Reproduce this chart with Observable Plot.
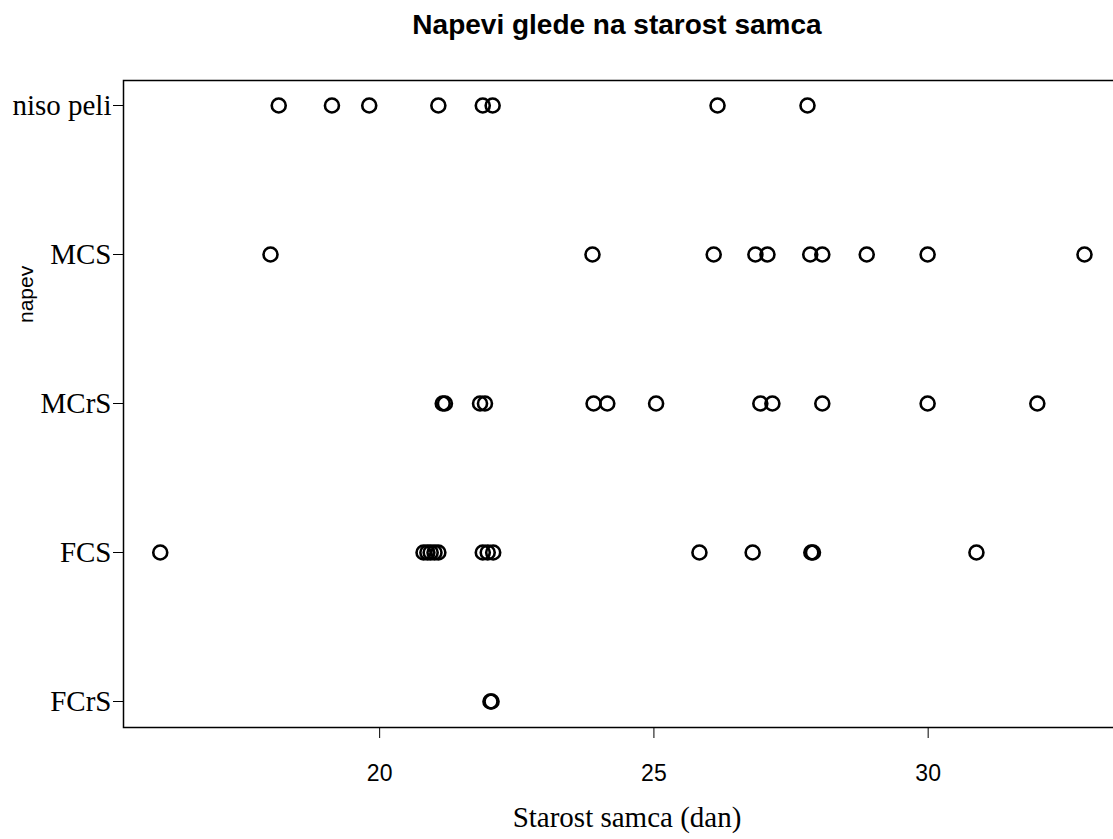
<!DOCTYPE html>
<html>
<head>
<meta charset="utf-8">
<script src="https://cdn.jsdelivr.net/npm/d3@7"></script>
<script src="https://cdn.jsdelivr.net/npm/@observablehq/plot@0.6"></script>
<style>
  html, body { margin: 0; padding: 0; background: #fff; overflow: hidden; }
</style>
</head>
<body>
<div id="chart"></div>
<script>
// ---- data ----
const categories = ["niso peli", "MCS", "MCrS", "FCS", "FCrS"];
const agesNisoPeli = [18.16, 19.13, 19.81, 21.07, 21.88, 22.06, 26.16, 27.80];
const agesMCS = [18.01, 23.88, 26.09, 26.85, 27.07, 27.85, 28.07, 28.88, 29.99, 32.85];
const agesMCrS = [21.15, 21.19, 21.83, 21.92, 23.90, 24.15, 25.04, 26.94, 27.16, 28.07, 29.99, 31.99];
const agesFCS = [16.00, 20.80, 20.87, 20.93, 21.00, 21.07, 21.88, 21.97, 22.07, 25.83, 26.80, 27.87, 27.90, 30.88];
const agesFCrS = [22.02, 22.04];
const xTicks = [20, 25, 30];
const titleText = "Napevi glede na starost samca";
const xLabelText = "Starost samca (dan)";
const yLabelText = "napev";

const seriesByCategory = {
  "niso peli": agesNisoPeli,
  "MCS": agesMCS,
  "MCrS": agesMCrS,
  "FCS": agesFCS,
  "FCrS": agesFCrS
};
const rows = categories.flatMap(c => seriesByCategory[c].map(a => ({napev: c, age: a})));

const serif = "'Liberation Serif', 'Times New Roman', 'DejaVu Serif', serif";
const sans = "'Liberation Sans', Arial, 'DejaVu Sans', sans-serif";
const narrow = "'Liberation Sans Narrow', 'Arial Narrow', 'Liberation Sans', Arial, sans-serif";

const chart = Plot.plot({
  width: 1113,
  height: 839,
  marginTop: 80,
  marginBottom: 112,
  marginLeft: 123,
  marginRight: -5,
  style: { background: "white", overflow: "hidden", color: "black" },
  x: { type: "linear", domain: [15.33, 33.47] },
  y: { type: "point", domain: categories, padding: 0, insetTop: 24, insetBottom: 26 },
  marks: [
    Plot.frame({ stroke: "black", strokeWidth: 1.5 }),
    Plot.axisX({
      ticks: xTicks, tickSize: 11, tickPadding: 26, label: null,
      fontSize: 23, fontFamily: narrow, stroke: "black", strokeWidth: 1
    }),
    Plot.axisY({
      tickSize: 10, tickPadding: 2, label: null,
      fontSize: 29, fontFamily: serif, stroke: "black", strokeWidth: 1
    }),
    Plot.dot(rows, {
      x: "age", y: "napev", r: 7, fill: "none", stroke: "black", strokeWidth: 2.6
    }),
    Plot.text([titleText], {
      frameAnchor: "top", dy: -55, dx: -4, text: d => d, fontSize: 28, fontWeight: "bold",
      fontFamily: sans, fill: "black", lineAnchor: "middle"
    }),
    Plot.text([xLabelText], {
      frameAnchor: "bottom", dy: 90, dx: 6, text: d => d, fontSize: 29,
      fontFamily: serif, fill: "black", lineAnchor: "middle"
    }),
    Plot.text([yLabelText], {
      frameAnchor: "left", dx: -97, dy: -81, rotate: -90, text: d => d, fontSize: 21,
      fontFamily: sans, fill: "black", lineAnchor: "middle"
    })
  ]
});
document.getElementById("chart").appendChild(chart);
</script>
</body>
</html>
